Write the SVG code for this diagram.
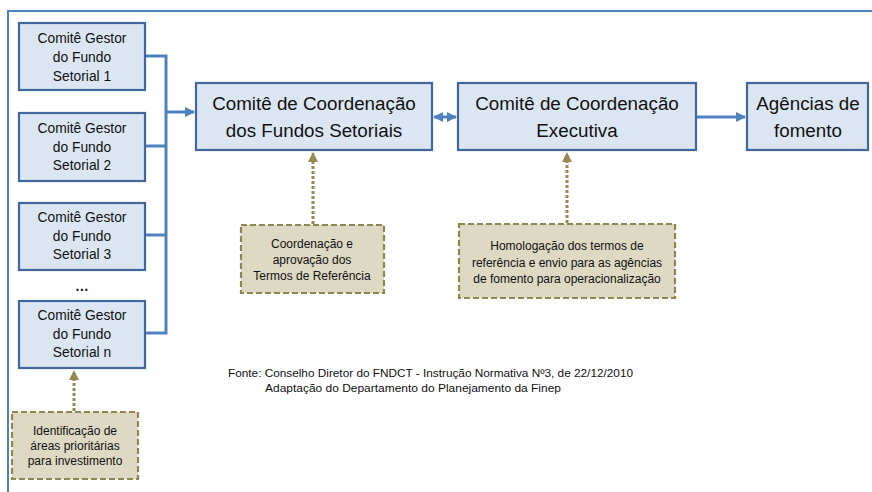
<svg xmlns="http://www.w3.org/2000/svg" width="872" height="492" viewBox="0 0 872 492">
<defs>
<style>
.box{fill:#dce6f2;stroke:#41679c;stroke-width:2.2}
.note{fill:#ddd9c3;stroke:#8f8752;stroke-width:2.2;stroke-dasharray:6 3}
.t{font-family:"Liberation Sans",Arial,sans-serif;fill:#111;text-anchor:middle}
.g{font-size:13.8px}
.big{font-size:18.8px}
.n{font-size:12px}
.conn{fill:none;stroke:#4f81bd;stroke-width:3}
.dot{fill:none;stroke:#948a54;stroke-width:3;stroke-dasharray:3 2}
</style>
<marker id="ab" viewBox="0 0 10 10" refX="9" refY="5" markerWidth="3.4" markerHeight="3.4" orient="auto-start-reverse" markerUnits="strokeWidth"><path d="M0,0L10,5L0,10z" fill="#4f81bd"/></marker>
<marker id="ao" viewBox="0 0 10 10" refX="9" refY="5" markerWidth="3.4" markerHeight="3.4" orient="auto" markerUnits="strokeWidth"><path d="M0,0L10,5L0,10z" fill="#948a54"/></marker>
</defs>
<rect width="872" height="492" fill="#fff"/>
<path d="M8,492V11H872" fill="none" stroke="#4f81bd" stroke-width="2"/>

<g id="connectors">
<path class="conn" d="M145,56H166V333H145M145,146H166M145,235H166"/>
<path class="conn" d="M166,112H194" marker-end="url(#ab)"/>
<path class="conn" d="M434,117H456" marker-start="url(#ab)" marker-end="url(#ab)"/>
<path class="conn" d="M697,117H745" marker-end="url(#ab)"/>
<path class="dot" d="M313,224V153" marker-end="url(#ao)"/>
<path class="dot" d="M567,223V153" marker-end="url(#ao)"/>
<path class="dot" d="M74,411V371" marker-end="url(#ao)"/>
</g>

<g id="gestor1"><rect class="box" x="19" y="23" width="126" height="67"/>
<text class="t g" x="82" y="43">Comitê Gestor</text><text class="t g" x="82" y="62">do Fundo</text><text class="t g" x="82" y="81">Setorial 1</text></g>
<g id="gestor2"><rect class="box" x="19" y="113" width="126" height="68"/>
<text class="t g" x="82" y="133">Comitê Gestor</text><text class="t g" x="82" y="152">do Fundo</text><text class="t g" x="82" y="170">Setorial 2</text></g>
<g id="gestor3"><rect class="box" x="19" y="203" width="126" height="67"/>
<text class="t g" x="82" y="222">Comitê Gestor</text><text class="t g" x="82" y="241">do Fundo</text><text class="t g" x="82" y="259">Setorial 3</text></g>
<text class="t g" x="82" y="291" font-weight="bold">…</text>
<g id="gestorn"><rect class="box" x="19" y="301" width="126" height="67"/>
<text class="t g" x="82" y="320">Comitê Gestor</text><text class="t g" x="82" y="339">do Fundo</text><text class="t g" x="82" y="357">Setorial n</text></g>

<g id="coord"><rect class="box" x="196" y="83" width="236" height="67"/>
<text class="t big" x="314" y="110">Comitê de Coordenação</text><text class="t big" x="314" y="137">dos Fundos Setoriais</text></g>
<g id="exec"><rect class="box" x="458" y="83" width="238" height="67"/>
<text class="t big" x="577" y="110">Comitê de Coordenação</text><text class="t big" x="577" y="137">Executiva</text></g>
<g id="agencias"><rect class="box" x="747" y="83" width="121" height="67"/>
<text class="t big" x="808" y="110">Agências de</text><text class="t big" x="808" y="137">fomento</text></g>

<g id="note-coord"><rect class="note" x="241" y="225" width="143" height="68"/>
<text class="t n" x="312" y="248">Coordenação e</text><text class="t n" x="312" y="264">aprovação dos</text><text class="t n" x="312" y="280">Termos de Referência</text></g>
<g id="note-exec"><rect class="note" x="459" y="224" width="216" height="74"/>
<text class="t n" x="567" y="250">Homologação dos termos de</text><text class="t n" x="567" y="267">referência e envio para as agências</text><text class="t n" x="567" y="283">de fomento para operacionalização</text></g>
<g id="note-gestor"><rect class="note" x="12" y="412" width="126" height="67"/>
<text class="t n" x="75" y="435">Identificação de</text><text class="t n" x="75" y="450">áreas prioritárias</text><text class="t n" x="75" y="465">para investimento</text></g>

<g id="fonte" font-family="Liberation Sans,Arial,sans-serif" font-size="11.5" fill="#111">
<text x="228" y="377" textLength="405" lengthAdjust="spacingAndGlyphs">Fonte: Conselho Diretor do FNDCT - Instrução Normativa Nº3, de 22/12/2010</text>
<text x="265" y="392" textLength="296" lengthAdjust="spacingAndGlyphs">Adaptação do Departamento do Planejamento da Finep</text>
</g>
</svg>
